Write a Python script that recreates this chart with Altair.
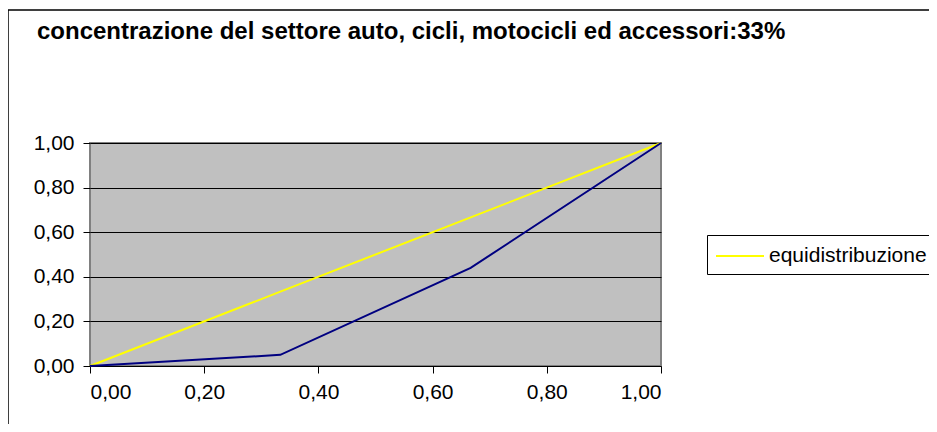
import altair as alt
import pandas as pd

# Data
x_vals = [0.0, 1/3, 2/3, 1.0]
lorenz = [0.0, 0.05, 0.44, 1.0]
equi = [0.0, 1/3, 2/3, 1.0]
series_name = "equidistribuzione"
title_text = "concentrazione del settore auto, cicli, motocicli ed accessori:33%"
tick_vals = [0, 0.2, 0.4, 0.6, 0.8, 1.0]

df_l = pd.DataFrame({"x": x_vals, "y": lorenz})
df_e = pd.DataFrame({"x": x_vals, "y": equi, "serie": [series_name] * len(x_vals)})

fmt = "replace(format(datum.value, '.2f'), '.', ',')"
FONT = "Liberation Sans"

xenc = alt.X("x:Q", scale=alt.Scale(domain=[0, 1], nice=False),
             axis=alt.Axis(values=tick_vals, labelExpr=fmt, title=None,
                           grid=False, domain=False, tickColor="#000000", tickSize=7,
                           labelPadding=8, labelFontSize=21, labelColor="#000000",
                           labelFont=FONT))
yenc = alt.Y("y:Q", scale=alt.Scale(domain=[0, 1], nice=False),
             axis=alt.Axis(values=tick_vals, labelExpr=fmt, title=None,
                           grid=True, gridColor="#000000", gridWidth=1, gridOpacity=1,
                           domain=False, tickColor="#000000", tickSize=7,
                           labelPadding=9, labelFontSize=21, labelColor="#000000",
                           labelFont=FONT))

border = alt.Chart(pd.DataFrame({"a": [0]})).mark_rect(
    fillOpacity=0, stroke="#000000", strokeWidth=1.5
).encode(x=alt.value(-82), x2=alt.value(900), y=alt.value(-133), y2=alt.value(400))

lor = alt.Chart(df_l).mark_line(color="#000080", strokeWidth=2).encode(x=xenc, y=yenc)
eq = alt.Chart(df_e).mark_line(strokeWidth=2).encode(
    x=xenc, y=yenc,
    color=alt.Color("serie:N", scale=alt.Scale(range=["#FFFF00"]),
                    legend=alt.Legend(title=None, orient="none", legendX=617, legendY=92,
                                      symbolType="M-1,0H3", symbolSize=24 * 24,
                                      symbolStrokeWidth=2, labelFontSize=21,
                                      labelFont=FONT, labelColor="#000000",
                                      labelOffset=28, labelLimit=400,
                                      strokeColor="#000000", padding=8, fillColor="#FFFFFF"))
)

chart = alt.layer(border, eq, lor).properties(
    width=571, height=223,
    title=alt.TitleParams(title_text, anchor="start", frame="group", dx=-53, dy=39,
                          fontSize=24, fontWeight="bold", font=FONT,
                          color="#000000"),
    autosize=alt.AutoSizeParams(type="none"),
    padding={"left": 82, "top": 135, "right": 268, "bottom": 58},
).configure(
    background="#FFFFFF",
    view=alt.ViewConfig(fill="#C0C0C0", stroke="#808080", strokeWidth=2),
)

chart.save("out.html", embed_options={"renderer": "svg", "actions": False})
